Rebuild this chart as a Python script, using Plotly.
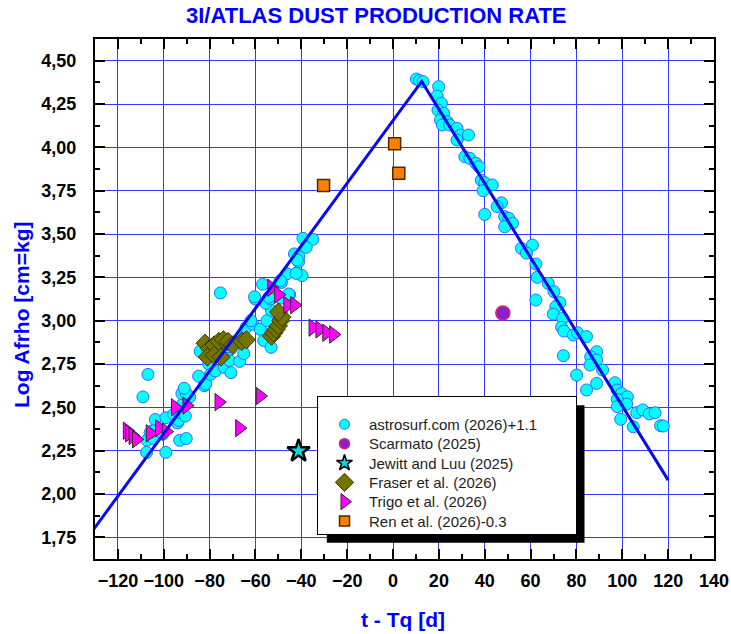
import plotly.graph_objects as go

# ---------------- data ----------------
# astrosurf.com (2026)+1.1 : time from perihelion [d], log Afrho
astro_t = [
    -109.1, -106.9, -107.5, -99.1, -107.3, -104.4, -105.9, -105.0, -102.1, -100.4,
    -103.4, -103.7, -99.1, -95.7, -94.0, -93.5, -93.2, -90.6, -91.7, -88.7,
    -92.1, -90.2, -91.1, -93.1, -90.2, -84.8, -82.3, -81.7, -80.4, -79.6,
    -77.5, -73.6, -70.7, -71.4, -66.9, -84.1, -80.9, -77.5, -73.9, -70.7,
    -68.8, -66.3, -65.5, -65.1, -64.1, -61.2, -57.9, -56.4, -53.2, -55.0,
    -53.1, -55.4, -60.1, -53.5, -56.9, -48.7, -45.1, -46.3, -39.7, -41.2,
    -75.3, -39.3, -35.0, -37.9, -43.0, -41.1, -41.8, -42.3, -49.2, -60.4,
    -54.2, -48.8, -45.5, -79.0, -76.0, -72.0, -62.0,
    10.2, 11.5, 13.1, 19.9, 19.2, 21.1, 19.6, 22.1, 20.7, 23.6,
    21.5, 24.7, 27.9, 29.4, 32.9, 27.9, 31.3, 33.5, 36.1, 37.5,
    38.5, 40.0, 43.3, 39.3, 40.0, 47.3, 45.4, 48.7, 50.5, 52.1,
    48.7, 56.0, 60.8, 58.2, 62.3, 62.9, 67.7, 70.2, 62.3, 72.8,
    71.0, 69.9, 74.0, 73.5, 74.5, 78.6, 80.5, 84.4, 74.3, 88.8,
    86.2, 88.8, 85.9, 91.4, 80.1, 88.8, 84.4, 96.8, 97.8, 99.7,
    102.2, 97.8, 101.9, 97.8, 99.3, 106.3, 108.9, 111.8, 114.3, 104.8,
    116.7, 117.9,
]
astro_afrho = [
    2.56, 2.69, 2.24, 2.24, 2.31, 2.32, 2.355, 2.365, 2.365, 2.345,
    2.375, 2.43, 2.44, 2.46, 2.41, 2.425, 2.47, 2.45, 2.52, 2.56,
    2.58, 2.58, 2.61, 2.31, 2.32, 2.68, 2.625, 2.635, 2.75, 2.69,
    2.71, 2.73, 2.70, 2.77, 2.765, 2.823, 2.827, 2.856, 2.865, 2.836,
    2.875, 2.90, 2.86, 2.81, 2.96, 2.98, 2.95, 2.885, 2.846, 3.00,
    3.06, 3.10, 3.125, 3.125, 3.21, 3.22, 3.15, 3.27, 3.26, 3.34,
    3.16, 3.475, 3.469, 3.423, 3.385, 3.37, 3.35, 3.273, 3.23, 3.138,
    3.135, 3.13, 3.154, 2.86, 2.83, 2.85, 3.00,
    4.394, 4.385, 4.379, 4.35, 4.296, 4.254, 4.215, 4.196, 4.158, 4.148,
    4.129, 4.129, 4.11, 4.071, 4.071, 4.042, 3.946, 3.936, 3.908, 3.888,
    3.81, 3.796, 3.783, 3.75, 3.613, 3.68, 3.658, 3.60, 3.59, 3.562,
    3.542, 3.417, 3.436, 3.39, 3.327, 3.25, 3.215, 3.167, 3.119, 3.104,
    3.08, 3.038, 3.013, 2.962, 2.94, 2.917, 2.93, 2.908, 2.798, 2.821,
    2.792, 2.773, 2.744, 2.715, 2.686, 2.638, 2.60, 2.642, 2.60, 2.58,
    2.561, 2.546, 2.519, 2.504, 2.431, 2.469, 2.485, 2.462, 2.469, 2.388,
    2.394, 2.392,
]

# Scarmato (2025)
scarmato_t = [47.9]
scarmato_afrho = [3.044]

# Jewitt and Luu (2025)
jewitt_t = [-41.2]
jewitt_afrho = [2.248]

# Fraser et al. (2026)
fraser_t = [-82.0, -80.0, -78.0, -76.0, -74.0, -72.0, -70.0, -66.0, -64.0,
            -81.0, -78.0, -75.0, -53.0, -52.0, -51.0, -50.0, -49.0, -48.5, -50.0]
fraser_afrho = [2.87, 2.84, 2.86, 2.88, 2.89, 2.88, 2.86, 2.88, 2.89,
                2.79, 2.80, 2.79, 2.91, 2.93, 2.95, 2.97, 3.00, 3.02, 3.05]

# Trigo et al. (2026)
trigo_t = [-116.0, -115.0, -113.5, -112.0, -106.0, -102.0, -99.0, -95.0, -90.0,
           -76.0, -67.0, -58.0, -53.0, -50.0, -46.0, -43.0, -35.0, -32.0, -29.0, -26.0]
trigo_afrho = [2.365, 2.35, 2.335, 2.315, 2.35, 2.38, 2.36, 2.50, 2.51,
               2.53, 2.38, 2.565, 3.19, 3.15, 3.09, 3.09, 2.96, 2.95, 2.93, 2.92]

# Ren et al. (2026)-0.3
ren_t = [-30.3, 0.7, 2.5]
ren_afrho = [3.78, 4.02, 3.85]

# piecewise-linear trend (rise to the peak, then decline)
trend_t = [-131.5, 12.5, 120.0]
trend_afrho = [1.78, 4.38, 2.08]

x_ticks = [-120, -100, -80, -60, -40, -20, 0, 20, 40, 60, 80, 100, 120, 140]
y_ticks = [1.75, 2.00, 2.25, 2.50, 2.75, 3.00, 3.25, 3.50, 3.75, 4.00, 4.25, 4.50]

# ---------------- styling ----------------
FONT = "Liberation Sans, Arial, sans-serif"
BLUE = "#0000FF"
GRID = "rgb(55,55,255)"

series = [
    dict(name="astrosurf.com (2026)+1.1", x=astro_t, y=astro_afrho, symbol="circle",
         color="#00FFFF", line="#2f6bff", lw=1, size=12, lsize=10),
    dict(name="Scarmato (2025)", x=scarmato_t, y=scarmato_afrho, symbol="circle",
         color="#8a1fd0", line="#e0206a", lw=1.5, size=14, lsize=10),
    dict(name="Jewitt and Luu (2025)", x=jewitt_t, y=jewitt_afrho, symbol="star",
         color="#10d8e0", line="#000000", lw=2.5, size=17, lsize=12),
    dict(name="Fraser et al. (2026)", x=fraser_t, y=fraser_afrho, symbol="diamond",
         color="#737300", line="#3a3a00", lw=1, size=14, lsize=14),
    dict(name="Trigo et al. (2026)", x=trigo_t, y=trigo_afrho, symbol="triangle-right",
         color="#FF00FF", line="#2a2a2a", lw=1, size=15, lsize=14),
    dict(name="Ren et al. (2026)-0.3", x=ren_t, y=ren_afrho, symbol="square",
         color="#FF8000", line="#4a2a00", lw=1.5, size=12, lsize=10),
]

# plot frame in pixels (figure is 731 x 634)
FIG_W, FIG_H = 731, 634
L, R, T, B = 95, 714, 39, 559


def fx(p):
    return (p - L) / (R - L)


def fy(p):
    return (B - p) / (B - T)


fig = go.Figure()

draw_order = [0, 3, 4, 1, 2, 5]
for i in draw_order:
    s = series[i]
    fig.add_trace(go.Scatter(
        x=s["x"], y=s["y"], mode="markers", name=s["name"], showlegend=False,
        marker=dict(symbol=s["symbol"], size=s["size"], color=s["color"],
                    line=dict(color=s["line"], width=s["lw"])),
        xaxis="x", yaxis="y", cliponaxis=False,
    ))

fig.add_trace(go.Scatter(
    x=trend_t, y=trend_afrho, mode="lines", showlegend=False,
    line=dict(color="#0a0af0", width=3), xaxis="x", yaxis="y",
))

# ---------------- legend box: an inset subplot in pixel units ----------------
BOX_X0, BOX_X1, BOX_Y0, BOX_Y1 = 318.3, 576.0, 396.7, 534.3
SHADOW = 8.5
ROW0, ROW_STEP = 27.6, 19.35
MARK_X, TEXT_X = 26.2, 48.4

for k, s in enumerate(series):
    fig.add_trace(go.Scatter(
        x=[MARK_X], y=[ROW0 + k * ROW_STEP], mode="markers", showlegend=False,
        hoverinfo="skip", xaxis="x2", yaxis="y2",
        marker=dict(symbol=s["symbol"], size=s["lsize"], color=s["color"],
                    line=dict(color=s["line"], width=min(s["lw"], 1.5))),
    ))
    fig.add_annotation(
        x=TEXT_X, y=ROW0 + k * ROW_STEP, xref="x2", yref="y2", text=s["name"],
        showarrow=False, xanchor="left", yanchor="middle",
        font=dict(family=FONT, size=15, color="#1e1e1e"),
    )

# drop shadow: L-shaped band right of and below the box
sx0, sx1 = fx(BOX_X0 + SHADOW), fx(BOX_X1 + SHADOW)
sy0, sy1 = fy(BOX_Y1 + SHADOW), fy(BOX_Y0 + SHADOW)
bx1, by0 = fx(BOX_X1), fy(BOX_Y1)
shadow_path = (f"M {bx1},{sy1} L {sx1},{sy1} L {sx1},{sy0} L {sx0},{sy0} "
               f"L {sx0},{by0} L {bx1},{by0} Z")
fig.add_shape(type="path", xref="paper", yref="paper", layer="above",
              path=shadow_path, fillcolor="black", line=dict(width=0))

# ---------------- titles ----------------
fig.add_annotation(text="3I/ATLAS DUST PRODUCTION RATE", xref="paper", yref="paper",
                   x=fx(376.7), y=fy(16), xanchor="center", yanchor="middle",
                   showarrow=False,
                   font=dict(family=FONT, size=22, color=BLUE, weight="bold"))
fig.add_annotation(text="Log Afrho [cm=kg]", xref="paper", yref="paper",
                   x=fx(21), y=fy(315), xanchor="center", yanchor="middle",
                   textangle=-90, showarrow=False,
                   font=dict(family=FONT, size=21, color=BLUE, weight="bold"))
fig.add_annotation(text="t - Tq [d]", xref="paper", yref="paper",
                   x=fx(402.5), y=fy(619), xanchor="center", yanchor="middle",
                   showarrow=False,
                   font=dict(family=FONT, size=21, color=BLUE, weight="bold"))

axis_common = dict(
    showline=True, linecolor="black", linewidth=2, mirror="allticks",
    ticks="inside", ticklen=10, tickwidth=1.5, tickcolor="black",
    showgrid=True, gridcolor=GRID, gridwidth=1, zeroline=False, automargin=False,
    tickfont=dict(family=FONT, size=18, color="black", weight="bold"),
)
inset_common = dict(showline=True, linecolor="black", linewidth=1.2, mirror=True,
                    ticks="", showticklabels=False, showgrid=False, zeroline=False,
                    fixedrange=True, automargin=False)

fig.update_layout(
    width=FIG_W, height=FIG_H, autosize=False,
    margin=dict(l=L, r=FIG_W - R, t=T, b=FIG_H - B, pad=0, autoexpand=False),
    paper_bgcolor="white", plot_bgcolor="white",
    separators=",.",
    showlegend=False,
    xaxis=dict(range=[-130, 140], tickvals=x_ticks, ticklabelstandoff=4,
               minor=dict(ticks="inside", ticklen=5, tickcolor="black", tickwidth=1.5,
                          dtick=10, tick0=0, showgrid=False),
               **axis_common),
    yaxis=dict(range=[1.625, 4.625], tickvals=y_ticks, tickformat=".2f",
               ticklabelstandoff=13,
               minor=dict(ticks="inside", ticklen=5, tickcolor="black", tickwidth=1.5,
                          dtick=0.125, tick0=0, showgrid=False),
               **axis_common),
    xaxis2=dict(domain=[fx(BOX_X0), fx(BOX_X1)], range=[0, BOX_X1 - BOX_X0],
                anchor="y2", **inset_common),
    yaxis2=dict(domain=[fy(BOX_Y1), fy(BOX_Y0)], range=[BOX_Y1 - BOX_Y0, 0],
                anchor="x2", **inset_common),
)

fig.write_html("out.html")
